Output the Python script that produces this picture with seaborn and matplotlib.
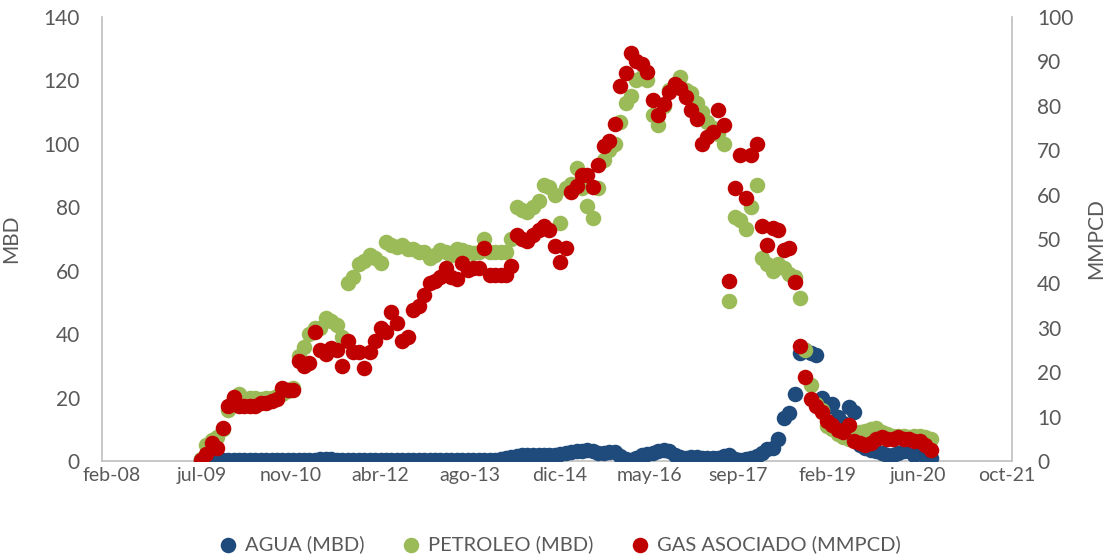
import numpy as np
import pandas as pd
import matplotlib
matplotlib.use("Agg")
import matplotlib.pyplot as plt
import seaborn as sns

# ---------------- data (monthly, jul-2009 .. sep-2020) ----------------
start_month = "2009-07-01"
n_months = 135

agua = [
    0.2, 0.2, 0.2, 0.3, 0.3, 0.3, 0.3, 0.3, 0.3, 0.3,
    0.3, 0.3, 0.3, 0.3, 0.3, 0.3, 0.4, 0.4, 0.4, 0.4,
    0.4, 0.4, 0.5, 0.5, 0.5, 0.4, 0.4, 0.3, 0.3, 0.3,
    0.3, 0.3, 0.3, 0.3, 0.3, 0.3, 0.3, 0.3, 0.3, 0.3,
    0.3, 0.3, 0.3, 0.3, 0.3, 0.3, 0.3, 0.3, 0.3, 0.3,
    0.3, 0.3, 0.4, 0.4,
    0.4, 0.5, 0.8, 1.2, 1.5, 1.8, 1.8, 2.0, 2.0, 1.8,
    1.8, 2.0, 2.3, 2.5, 2.8, 3.0, 3.3, 3.5, 3.3, 2.5,
    2.5, 2.8, 2.8, 1.5, 0.5, 0.3, 1.0, 1.8, 2.3, 2.5,
    3.0, 3.5, 3.0, 2.0, 1.3, 1.0, 1.2, 1.2, 1.0, 1.0,
    1.0, 1.0, 1.5, 1.8, 0.5, 0.3, 0.5, 1.0, 1.5, 2.5,
    3.8, 4.0, 7.0, 13.5, 15.0, 21.0, 34.0, 35.0, 34.0, 33.5,
    20.0, 17.0, 18.0, 14.0, 12.0, 17.0, 15.5, 5.0, 4.0, 3.5,
    3.0, 2.5, 2.0, 2.0, 2.5, 3.0, 3.0, 2.0, 2.5, 1.5,
    1.0,
]

petroleo = [
    0.5, 5, 6.5, 7.5, 10, 16, 20, 21, 19.5, 20,
    20, 19.5, 20, 20, 20.5, 21, 22, 23, 33, 36,
    40, 42, 42, 45, 44, 43, 39, 56, 58, 62,
    63, 65, 64, 62.5, 69, 68, 67.5, 68, 67, 67,
    66, 66, 64, 65, 66.5, 66, 65, 67, 66.5, 66,
    65.5, 66, 70, 66, 66, 66, 66, 70, 80, 79,
    78.5, 80, 82, 87, 86.5, 84, 75, 86, 87.5, 92.5,
    86, 80.5, 76.5, 86, 95, 98, 100, 107, 113, 115,
    120, 121, 120, 109, 106, 112, 117, 119, 121, 117,
    116, 113, 110, 107, 105, 103, 100, 50.5, 77, 76,
    73, 80, 87, 64, 62, 60, 62, 61, 59, 58,
    51.5, 35, 24, 18, 16, 11, 10, 8.5, 7.5, 7,
    8, 9, 9.5, 10, 10.5, 9, 8.5, 8, 8, 8,
    7.5, 8, 8, 7.5, 7,
]

gas = [
    0.3, 1.5, 4, 3, 7.5, 12.5, 14.5, 12.5, 12.5, 12.5,
    12.5, 13, 13, 13.5, 14, 16.5, 16, 16, 22.5, 21.5,
    22, 29, 25, 24, 25.5, 25, 21.5, 27, 24.5, 24.5,
    21, 24.5, 27, 30, 29, 33.5, 31, 27, 28, 34,
    35, 37.5, 40, 40.5, 41.5, 43.5, 41.5, 41, 44.5, 43,
    43.5, 43.5, 48, 42, 42, 42, 42, 44, 51, 50,
    49.5, 51, 52, 53, 52, 48.5, 44.8, 48, 60.5, 62,
    64.5, 64.5, 61.7, 66.7, 71, 72, 76, 84.5, 87.4, 92,
    90, 89.5, 87.5, 81.3, 78, 80.5, 83, 85, 84, 82,
    79, 77, 71.5, 73, 74, 79, 75.7, 40.5, 61.5, 69,
    59.2, 69, 71.5, 53, 48.6, 52.5, 52, 47.5, 48, 40.3,
    26, 19, 14, 12.5, 11, 9, 8, 7, 6.5, 8,
    4.5, 4, 3.5, 4, 5, 5.5, 5, 5, 5.5, 5,
    5, 4.5, 4.5, 3.5, 2.5,
]

tick_labels = ["feb-08", "jul-09", "nov-10", "abr-12", "ago-13", "dic-14",
               "may-16", "sep-17", "feb-19", "jun-20", "oct-21"]
series_names = ["AGUA (MBD)", "PETROLEO (MBD)", "GAS ASOCIADO (MMPCD)"]

fechas = pd.date_range(start_month, periods=n_months, freq="MS")
df = pd.DataFrame({"fecha": fechas, "agua": agua, "petroleo": petroleo, "gas": gas})

# ---------------- style ----------------
sns.set_theme(style="white")
plt.rcParams["font.family"] = ["Lato", "DejaVu Sans"]
txt = "#595959"
axis_grey = "#BFBFBF"
c_agua = "#1F4A7C"
c_pet = "#9BBB59"
c_gas = "#C00000"
fs = 15.0

fig = plt.figure(figsize=(11.07, 5.59), dpi=100)
# plot area: x 102..1012 px, y 17..461 px
ax = fig.add_axes([102 / 1107, 98 / 559, 910 / 1107, 444 / 559])
ax2 = ax.twinx()

msize = 125
sns.scatterplot(data=df, x="fecha", y="agua", ax=ax, color=c_agua, s=msize,
                linewidth=0, label=series_names[0], zorder=2)
sns.scatterplot(data=df, x="fecha", y="petroleo", ax=ax, color=c_pet, s=msize,
                linewidth=0, label=series_names[1], zorder=3)
sns.scatterplot(data=df, x="fecha", y="gas", ax=ax2, color=c_gas, s=msize,
                linewidth=0, label=series_names[2], zorder=4)

# x axis (Excel-like date axis: 500-day major unit)
x0 = pd.Timestamp("2008-02-22")
ticks = [x0 + pd.Timedelta(days=500 * k) for k in range(len(tick_labels))]
ax.set_xlim(ticks[0] - pd.Timedelta(days=56), ticks[-1] + pd.Timedelta(days=28))
ax.set_xticks(ticks)
ax.set_xticklabels(tick_labels)

ax.set_ylim(0, 140)
ax.set_yticks(np.arange(0, 141, 20))
ax2.set_ylim(0, 100)
ax2.set_yticks(np.arange(0, 101, 10))

ax.set_xlabel("")
ax.set_ylabel("MBD", color=txt, fontsize=fs, labelpad=16)
ax2.set_ylabel("MMPCD", color=txt, fontsize=fs, labelpad=9)

for a in (ax, ax2):
    a.tick_params(axis="both", length=0, labelsize=fs, colors=txt)
    for s in a.spines.values():
        s.set_visible(False)
    a.grid(False)
ax.spines["bottom"].set_visible(True)
ax.spines["left"].set_visible(True)
ax2.spines["right"].set_visible(True)
for sp in (ax.spines["bottom"], ax.spines["left"], ax2.spines["right"]):
    sp.set_color(axis_grey)
    sp.set_linewidth(1.2)
    sp.set_zorder(1)
ax.tick_params(axis="x", pad=4, labelsize=14)
ax.tick_params(axis="y", pad=16)
ax2.tick_params(axis="y", pad=18)

# legend
h1, l1 = ax.get_legend_handles_labels()
h2, l2 = ax2.get_legend_handles_labels()
if ax.get_legend():
    ax.get_legend().remove()
if ax2.get_legend():
    ax2.get_legend().remove()
fig.legend(h1 + h2, l1 + l2, loc="center", bbox_to_anchor=(0.505, 0.027), ncol=3,
           frameon=False, fontsize=14.5, labelcolor=txt, markerscale=1.0,
           handlelength=1.0, handletextpad=0.35, columnspacing=1.8)

fig.savefig("out.png", dpi=100)
